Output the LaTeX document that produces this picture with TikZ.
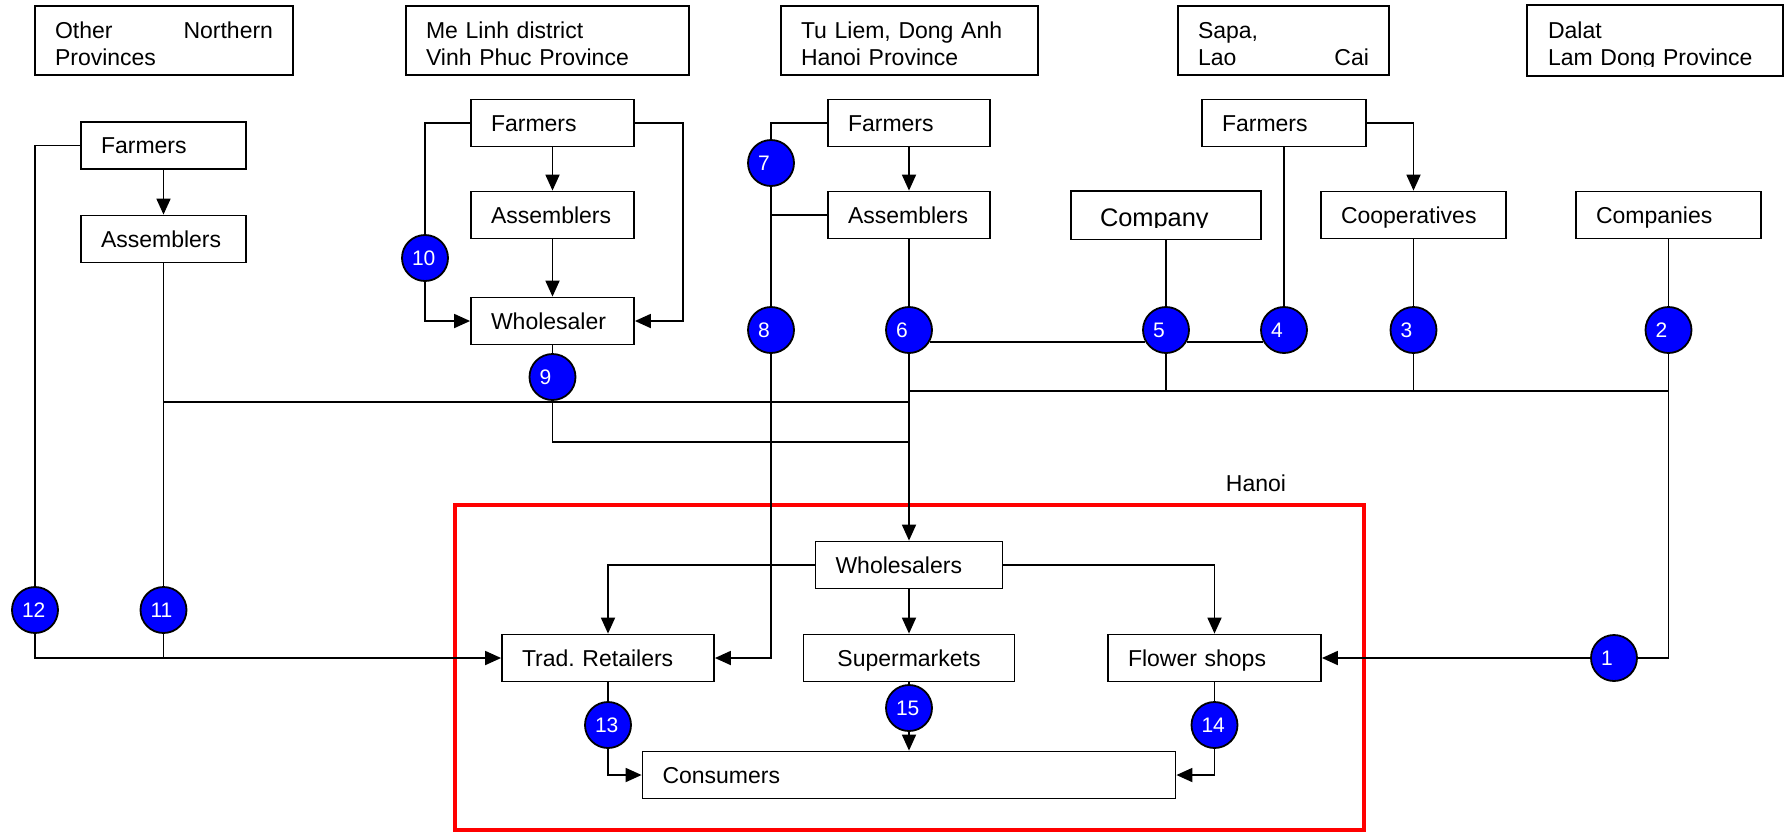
\documentclass[tikz,border=0pt]{standalone}
\usepackage{fontspec}
\setmainfont{Liberation Sans}
\usetikzlibrary{arrows.meta}
\tikzset{>={Triangle[length=8pt,width=7pt]}}
\tikzset{
  box/.style={draw, text width=#1, inner xsep=10pt, inner ysep=0pt, minimum height=23.5pt,
    text height=9.2pt, text depth=1pt, align=left},
  place/.style={draw, text width=#1, inner xsep=10pt, inner ysep=0pt, minimum height=34.5pt,
    text height=16pt, text depth=18.5pt, align=left, font=\fontsize{11.5}{13.5}\selectfont},
  num/.style={circle, draw, fill=blue, text=white, minimum size=23pt, inner sep=0pt,
    text width=13pt, align=left, font=\fontsize{10.5}{12}\selectfont},
  hanoibox/.style={draw=red, line width=2pt, inner sep=0pt}
}
\newcommand{\spreadline}[2]{\hbox to \hsize{#1\hfill #2}}

\begin{document}
\begin{tikzpicture}[x=0.5pt, y=-0.5pt, line width=0.9pt, font=\fontsize{11.5}{13}\selectfont]
	\useasboundingbox (0,0) rectangle (1785,832);
	% regions
	\node[place=109pt] (pA) at (164,40.5) {\spreadline{Other}{Northern}\\Provinces};
	\node[place=121.5pt] (pB) at (547.5,40.5) {Me Linh district\\Vinh Phuc Province};
	\node[place=108.5pt] (pC) at (909.5,40.5) {\mbox{Tu Liem, Dong Anh}\\Hanoi Province};
	\node[place=85.5pt] (pD) at (1283.5,40.5) {Sapa,\\\spreadline{Lao}{Cai}};
	\begin{scope}
		\clip (1500,0) rectangle (1785,66);
		\node[place=107pt, draw=none] (pE) at (1655,40.5) {Dalat\\Lam Dong Province};
	\end{scope}
	\draw (pE.north west) rectangle (pE.south east);
	% Hanoi frame
	\node[hanoibox, minimum width=454.5pt, minimum height=162.5pt] (hanoi) at (909.5,667.5) {};
	\node (hanoilbl) at (1256,483) {Hanoi};
	% actors
	\foreach \nm/\x/\y/\w/\txt in {c1far/163.5/145.5/62.5pt/Farmers, c1asm/163.5/239/62.5pt/Assemblers,
		c2far/552.5/123/61.5pt/Farmers, c2asm/552.5/215/61.5pt/Assemblers, c2whs/552.5/321/61.5pt/Wholesaler,
		c3far/909/123/61pt/Farmers, c3asm/909/215/61pt/Assemblers, sfar/1284/123/62pt/Farmers,
		coop/1413.5/215/72.5pt/Cooperatives, cos/1668.5/215/72.5pt/Companies, whs/909/565/73.5pt/Wholesalers,
		trad/608/658/86pt/Trad.\ Retailers, flow/1214.5/658/86.5pt/Flower shops, cons/909/775/246.5pt/Consumers}
	\node[box=\w] (\nm) at (\x,\y) {\txt};
	\node[box=85.5pt, align=center] (sup) at (909,658) {Supermarkets};
	\begin{scope}
		\clip (1060,180) rectangle (1270,227);
		\node[box=66pt, draw=none, inner xsep=14pt, text height=11pt, text depth=0pt,
			font=\fontsize{12.7}{14}\selectfont] (comp) at (1166,215) {Company};
	\end{scope}
	\draw (comp.north west) rectangle (comp.south east);
	% channel numbers
	\foreach \i/\x/\y in {1/1614/658, 2/1668.5/330, 3/1413.5/330, 4/1284/330, 5/1166/330, 6/909/330,
		7/771/163, 8/771/330, 9/552.5/377, 10/425/258, 11/163.5/610, 12/35/610, 13/608/725, 14/1214.5/725, 15/909/708}
	\node[num] (n\i) at (\x,\y) {\i};
	\coordinate (jA) at (909,402);
	\coordinate (jB) at (909,442);
	\coordinate (jC) at (1668.5,391);
	% other northern provinces
	\draw[->] (c1far) -- (c1asm);
	\draw (c1far.west) -| (n12);
	\draw[->] (n12) |- (trad.west);
	\draw (c1asm) -- (n11);
	\draw (n11) -- (n11 |- trad.west);
	\draw (c1asm.south |- jA) -- (jA);
	% Me Linh
	\draw[->] (c2far) -- (c2asm);
	\draw[->] (c2asm) -- (c2whs);
	\draw (c2far.west) -| (n10);
	\draw[->] (n10) |- (c2whs.west);
	\draw[->] (c2far.east) -- ++(48,0) |- (c2whs.east);
	\draw (c2whs) -- (n9);
	\draw (n9) |- (jB);
	% Tu Liem, Dong Anh
	\draw[->] (c3far) -- (c3asm);
	\draw (c3far.west) -| (n7);
	\draw (n7) -- (n8);
	\draw (c3asm.west) -- (c3asm.west -| n7);
	\draw[->] (n8) |- (trad.east);
	\draw (c3asm) -- (n6);
	\draw[->] (n6) -- (whs);
	% Sapa, Dalat
	\draw (comp) -- (n5);
	\draw (sfar) -- (n4);
	\draw[->] (sfar.east) -| (coop);
	\draw (coop) -- (n3);
	\draw (cos) -- (n2);
	\draw (n6.-30) -- (n5.-150);
	\draw (n5.-30) -- (n4.-150);
	\draw (n6 |- jC) -- (jC);
	\draw (n5) -- (n5 |- jC);
	\draw (n3) -- (n3 |- jC);
	\draw (n2) |- (n1);
	\draw[->] (n1) -- (flow);
	% inside Hanoi
	\draw[->] (whs.west) -| (trad);
	\draw[->] (whs) -- (sup);
	\draw[->] (whs.east) -| (flow);
	\draw (trad) -- (n13);
	\draw[->] (n13) |- (cons.west);
	\draw (sup) -- (n15);
	\draw[->] (n15) -- (cons);
	\draw (flow) -- (n14);
	\draw[->] (n14) |- (cons.east);
\end{tikzpicture}
\end{document}
